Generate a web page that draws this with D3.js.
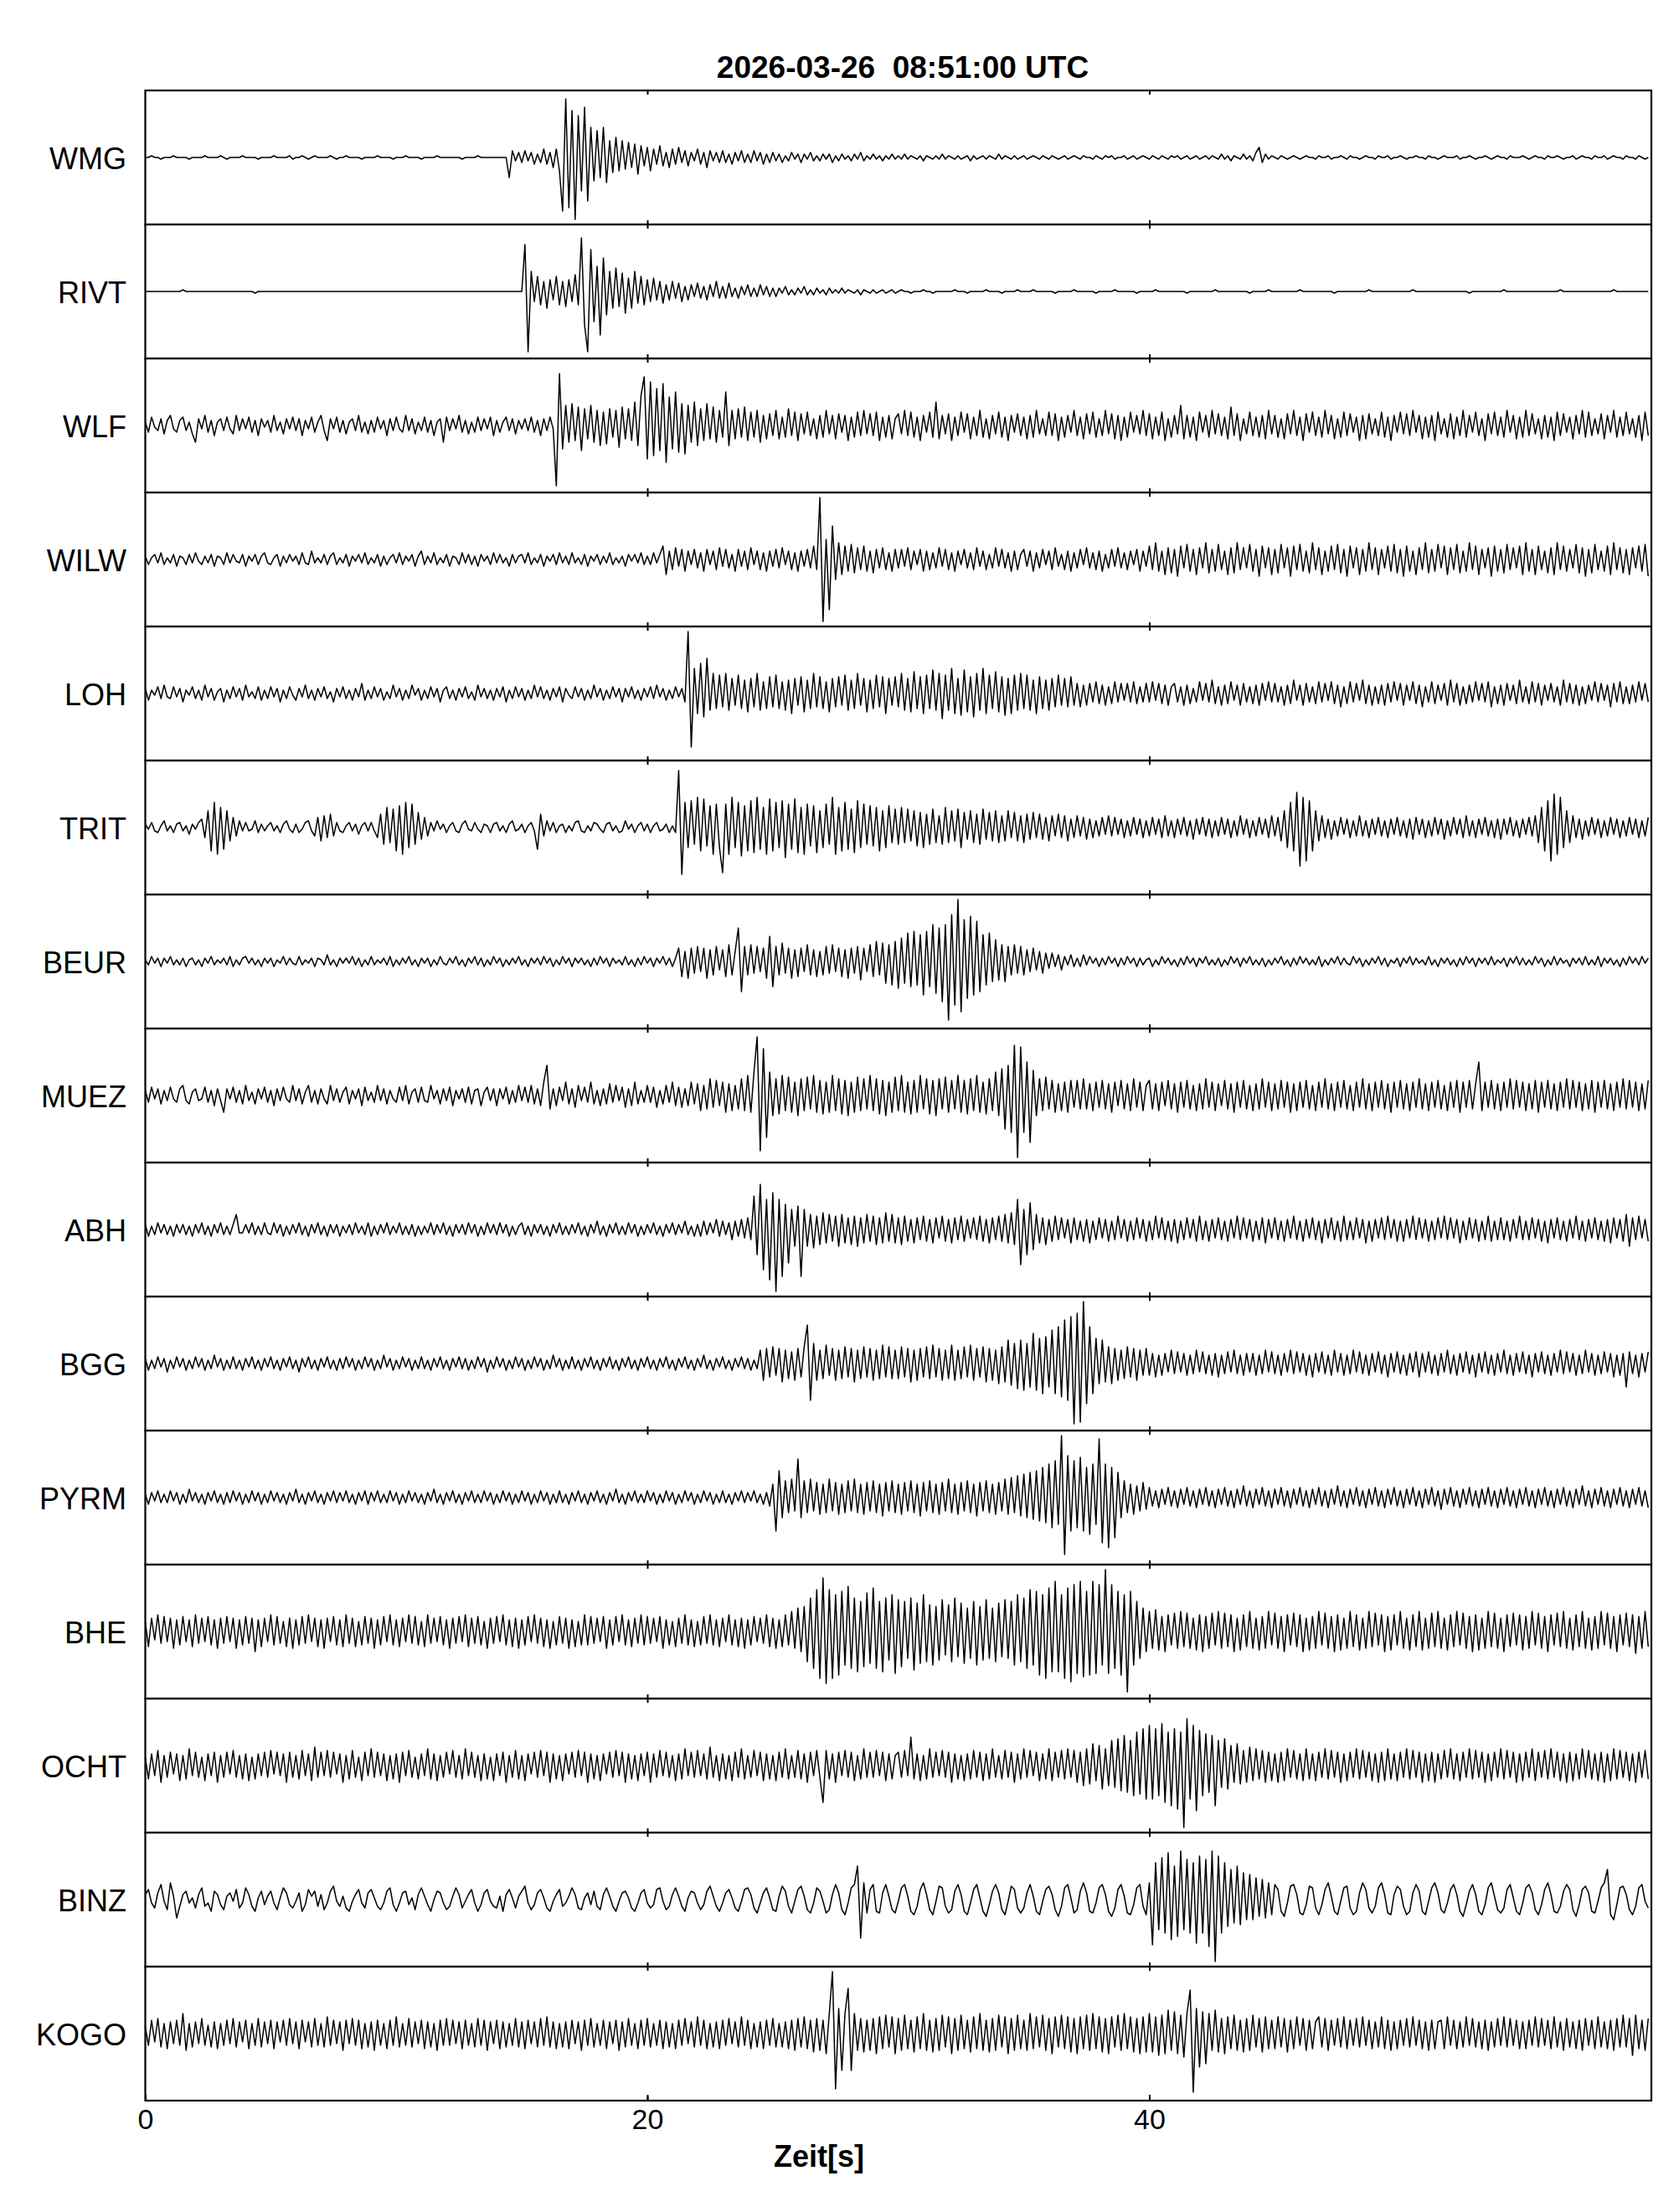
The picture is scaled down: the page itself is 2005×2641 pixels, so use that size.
<!DOCTYPE html>
<html>
<head>
<meta charset="utf-8">
<script src="https://cdn.jsdelivr.net/npm/d3@7"></script>
<style>
  body { margin: 0; background: #fff; }
  text { font-family: "Liberation Sans", Arial, sans-serif; fill: #000; }
</style>
</head>
<body>
<script>
// Page and plot area
var svgWidth = 2005;
var svgHeight = 2641;
var plotLeft = 173.5, plotRight = 1972, plotTop = 108, plotBottom = 2508;

// Chart labels
var titleText = "2026-03-26  08:51:00 UTC";
var xLabel = "Zeit[s]";
var timeTicks = [0, 20, 40];
var timeRange = [0, 60];
var sampleStep = 0.125;   // seconds between values (8 per second)
var ampRange = [-40, 40];

var stations = ["WMG", "RIVT", "WLF", "WILW", "LOH", "TRIT", "BEUR", "MUEZ",
                "ABH", "BGG", "PYRM", "BHE", "OCHT", "BINZ", "KOGO"];

// Traces (relative amplitude, one line = 5 s)
var wmg = [
  0,0,1,0,0,-1,0,0, 0,1,0,0,0,0,-1,0, 0,0,0,1,0,0,0,0, 1,0,-1,0,0,0,0,1, 0,0,0,0,-1,0,0,0,
  0,1,0,0,0,0,1,-1, 0,0,1,0,-1,0,1,0, 0,0,0,1,0,-1,0,0, 1,0,0,0,0,-1,0,0, 0,0,1,0,0,0,0,-1,
  0,0,0,1,0,0,0,0, -1,0,0,0,0,1,0,0, 0,0,0,0,0,-1,0,0, 0,0,1,0,0,0,0,0, 0,0,0,0,-12,4,-2,3,
  -3,4,-2,3,-4,2,-3,5, -4,3,-6,5,-8,-32,35,-30, 28,-37,25,-20,30,-26,18,-14, 16,-12,18,-15,10,-9,12,-8, 10,-7,9,-6,8,-10,7,-5,
  6,-8,5,-4,7,-5,3,-6, 5,-4,6,-3,4,-5,3,-2, 5,-4,3,-6,4,-2,3,-3, 4,-3,2,-4,3,-2,4,-3, 2,-3,4,-2,3,-4,2,-3,
  3,-2,2,-3,1,-2,3,-1, 2,-3,2,-1,3,-2,1,-2, 2,-1,2,-3,1,-2,2,-1, 1,-2,2,-1,3,-2,1,-1, 2,-1,1,-2,1,-1,2,-1,
  1,-1,2,-1,1,0,-1,1, -2,1,0,-1,1,-1,2,-1, 1,0,-1,1,-1,0,1,-2, 1,-1,0,1,-1,1,0,-1, 2,-1,1,0,-1,1,-1,0,
  1,-1,0,1,0,-1,1,0, -1,1,0,-1,0,1,-1,0, 1,0,-1,1,0,0,-1,1, 0,-1,1,0,1,-1,0,0, 1,-1,0,1,-1,0,1,0,
  -1,1,0,-1,1,0,-1,1, 0,1,-1,0,1,-1,0,1, -1,0,1,-1,1,0,-1,2, -1,1,-2,1,0,-1,2,-1, 1,-2,3,6,-3,2,-1,1,
  0,-1,1,0,-1,0,1,0, -1,0,1,0,0,-1,1,0, 0,1,-1,0,0,1,0,-1, 1,0,0,-1,0,1,0,0, -1,1,0,0,1,-1,0,0,
  1,0,-1,0,0,1,0,0, -1,1,0,0,-1,0,1,0, 0,0,1,-1,0,0,1,0, -1,0,0,1,0,-1,0,1, 0,0,-1,1,0,0,0,1,
  0,-1,0,1,0,0,-1,1, 0,0,1,0,-1,0,0,1, -1,0,1,0,0,-1,1,0, 0,1,-1,0,1,0,0,-1, 1,0,0,-1,1,0,-1,0
];
var rivt = [
  0,0,0,0,0,0,0,0, 0,0,0,0,1,0,0,0, 0,0,0,0,0,0,0,0, 0,0,0,0,0,0,0,0, 0,0,0,-1,0,0,0,0,
  0,0,0,0,0,0,0,0, 0,0,0,0,0,0,0,0, 0,0,0,0,0,0,0,0, 0,0,0,0,0,0,0,0, 0,0,0,0,0,0,0,0,
  0,0,0,0,0,0,0,0, 0,0,0,0,0,0,0,0, 0,0,0,0,0,0,0,0, 0,0,0,0,0,0,0,0, 0,0,0,0,0,0,0,0,
  0,28,-36,12,-6,9,-8,6, -10,7,-5,9,-8,6,-9,7, -6,10,-8,32,-20,-36,25,-18, 15,-26,20,-14,12,-10,14,-9, 11,-13,8,-10,12,-7,9,-8,
  7,-6,8,-5,6,-7,4,-5, 6,-4,5,-6,3,-5,4,-3, 5,-4,3,-5,4,-3,6,-4, 3,-4,5,-3,2,-4,3,-2, 4,-3,2,-3,4,-2,3,-3,
  2,-3,2,-1,3,-2,1,-2, 2,-1,3,-2,1,-2,2,-1, 1,-2,2,-1,1,-1,2,-1, 1,0,-1,1,-2,1,0,-1, 1,-1,0,1,-1,0,1,-1,
  0,1,0,0,-1,0,0,0, 1,0,0,-1,0,0,0,0, 0,0,1,0,0,0,-1,0, 0,0,0,0,1,0,0,0, 0,-1,0,0,0,0,1,0,
  0,0,0,1,0,0,0,0, 0,0,-1,0,0,0,0,0, 1,0,0,0,0,0,0,-1, 0,0,0,0,0,1,0,0, 0,0,0,0,-1,0,0,0,
  0,0,1,0,0,0,0,0, 0,0,0,0,-1,0,0,0, 0,0,0,0,0,1,0,0, 0,0,0,0,0,0,0,0, -1,0,0,0,0,0,1,0,
  0,0,0,0,0,0,0,0, 1,0,0,0,0,0,0,0, 0,0,0,-1,0,0,0,0, 0,0,0,0,0,0,1,0, 0,0,0,0,0,0,0,0,
  0,0,0,0,1,0,0,0, 0,0,0,0,0,0,0,0, 0,0,0,0,0,0,-1,0, 0,0,0,0,0,0,0,0, 0,1,0,0,0,0,0,0,
  0,0,0,0,0,0,0,0, 0,0,0,1,0,0,0,0, 0,0,0,0,0,0,0,0, 0,0,0,0,1,0,0,0, 0,0,0,0,0,0,0,0
];
var wlf = [
  2,-4,5,-1,-3,4,-5,3, 6,-2,-4,3,5,-3,2,-5, -10,4,-2,6,-4,3,-6,2, 4,-3,5,-2,-5,6,-3,4, -2,5,-4,3,-6,4,-1,3,
  -4,6,-3,2,-5,4,-2,5, -3,4,-6,3,-2,5,-4,2, 6,-3,-9,4,-2,5,-4,3, -5,2,4,-3,6,-4,2,-5, 3,-4,5,-2,3,-6,4,-3,
  5,-2,-4,6,-3,4,-5,2, -3,5,-4,3,-6,2,4,-10, 5,-3,4,-2,6,-4,3,-5, 2,-4,5,-3,4,-2,5,-6, 3,-4,2,5,-3,4,-5,3,
  -2,4,-3,5,-4,3,-6,4, -3,5,-2,-36,31,-14,12,-10, 13,-9,11,-15,10,-8,12,-10, 9,-12,8,-11,10,-7,9,-13, 11,-8,10,-9,14,-12,18,29,
  -20,26,-18,22,-15,25,-22,17, -14,20,-16,13,-17,12,-10,14, -12,10,-9,13,-8,11,-10,9, -7,20,-12,9,-8,10,-7,11, -9,8,-7,9,-10,6,-8,7,
  -6,9,-8,5,-7,10,-6,8, -9,7,-5,8,-6,4,-8,6, -7,9,-5,6,-8,7,-4,6, -9,5,-7,8,-6,9,-5,7, -6,8,-9,5,-7,6,-8,4,
  7,-5,9,-6,8,-7,5,-9, 6,-4,8,-7,14,-8,6,-5, 7,-9,5,-6,8,-4,7,-8, 5,-6,9,-7,4,-8,6,-5, 8,-7,5,-9,6,-4,7,-6,
  5,-8,6,-7,9,-5,4,-6, 8,-6,7,-9,5,-7,6,-4, 9,-6,5,-8,7,-5,8,-7, 4,-6,9,-5,7,-8,6,-9, 5,-7,8,-4,6,-5,9,-6,
  7,-8,5,-6,8,-9,4,-7, 6,-5,12,-8,6,-7,5,-9, 8,-4,6,-7,9,-5,7,-6, 5,-8,11,-6,7,-9,4,-5, 8,-6,5,-7,6,-8,9,-5,
  6,-7,4,-8,7,-5,9,-6, 5,-9,7,-4,8,-6,5,-7, 9,-5,6,-8,4,-7,8,-6, 7,-4,5,-9,6,-8,7,-5, 4,-6,8,-7,5,-9,6,-4,
  8,-5,7,-6,9,-4,6,-8, 5,-7,6,-9,8,-5,4,-7, 7,-8,5,-6,9,-7,6,-4, 8,-6,4,-9,7,-5,8,-6, 5,-7,9,-4,6,-8,5,-7,
  9,-6,7,-5,4,-8,6,-7, 5,-9,8,-6,7,-4,5,-8, 6,-5,9,-7,8,-6,4,-5, 7,-8,6,-4,9,-7,5,-6, 8,-5,4,-7,6,-9,8,-6
];
var wilw = [
  2,-3,1,3,-2,4,-3,1, -2,3,-4,2,1,-3,3,-2, 4,-1,-3,2,-2,3,-4,2, 1,-3,4,-2,3,-1,-2,3, -4,2,-1,3,-3,2,4,-2,
  -3,1,3,-4,2,-2,3,-1, 2,-3,4,-2,-3,5,-2,1, -2,3,-3,2,4,-3,1,-2, 3,-4,2,-1,3,-2,4,-3, 1,-2,3,-4,2,-3,1,3,
  -2,4,-3,2,-1,3,-4,2, 5,-3,2,-2,4,-3,1,-2, 3,-4,2,1,-3,4,-2,3, -3,2,-4,3,-1,2,-3,4, -2,3,-2,1,-4,3,-2,2,
  3,-2,4,-3,1,-2,3,-4, 2,-1,3,-3,4,-2,2,-3, 4,-2,1,-3,3,-4,2,-1, 3,-3,2,-2,4,-3,1,-2, 2,-4,3,-1,3,-2,4,-3,
  2,-3,4,-2,3,8,-9,5, -6,7,-4,6,-7,5,-3,6, -5,4,-7,6,-3,5,-6,7, -4,6,-5,3,-7,6,-4,5, -6,7,-3,5,-6,4,-7,5,
  -4,6,-5,7,-3,5,-6,4, -7,5,-4,6,-5,8,-6,37, -37,12,-30,20,-12,10,-9,8, -7,9,-8,7,-6,8,-7,5, -8,6,-5,7,-6,4,-7,6,
  -5,6,-4,7,-6,5,-3,6, -7,5,-6,4,-5,7,-4,6, -6,4,-7,5,-3,6,-5,4, -6,7,-4,5,-6,3,-5,7, -4,6,-5,4,-7,5,-6,3,
  6,-4,5,-7,4,-5,6,-3, 5,-6,7,-4,3,-6,5,-7, 4,-5,6,-3,7,-5,4,-6, 5,-7,3,-5,6,-4,7,-5, 4,-6,5,-3,6,-7,5,-4,
  8,-6,10,-7,5,-9,7,-8, 6,-10,8,-5,9,-7,6,-9, 7,-5,10,-8,6,-7,9,-6, 5,-9,7,-8,10,-6,7,-5, 9,-7,6,-10,8,-5,7,-9,
  6,-8,9,-5,7,-10,8,-6, 9,-7,5,-8,10,-6,7,-9, 5,-7,8,-6,9,-8,6,-10, 8,-5,7,-9,6,-7,10,-6, 7,-9,6,-5,8,-7,9,-8,
  6,-10,8,-7,5,-9,7,-6, 10,-8,6,-7,9,-5,8,-9, 7,-6,9,-8,5,-7,10,-6, 8,-9,6,-5,7,-10,8,-7, 6,-8,9,-6,7,-5,8,-9,
  10,-7,6,-9,8,-6,5,-8, 7,-9,10,-6,8,-7,6,-5, 9,-8,7,-10,6,-8,9,-6, 5,-7,8,-9,10,-6,7,-8, 6,-9,7,-5,8,-7,9,-10
];
var loh = [
  3,-4,2,-1,4,-3,5,-2, -3,4,-2,3,-5,2,-1,4, -3,2,-4,5,-2,3,-4,1, 3,-5,2,-3,4,-2,3,-4, 5,-2,1,-3,4,-4,2,-3,
  4,-2,3,-5,2,-3,4,-1, -4,3,-2,5,-3,2,-4,3, -2,4,-3,1,-5,3,-2,4, -3,2,-4,3,-2,6,-4,2, -3,4,-2,3,-4,1,-3,5,
  -2,3,-4,2,-3,5,-1,3, -4,2,-3,4,-2,3,-5,2, 4,-3,2,-4,3,-2,4,-3, 1,-4,5,-2,3,-3,2,-4, 3,-2,4,-5,2,-3,4,-2,
  3,-4,2,-3,5,-2,4,-3, 2,-4,3,-2,4,-5,3,-1, -3,4,-2,3,-4,2,-3,5, -2,3,-4,2,-3,4,-2,3, -5,3,-2,4,-3,2,-4,3,
  -2,4,-3,5,-2,3,-4,2, -3,4,-2,3,-5,37,-32,15, -12,18,-14,21,-10,12,-9,11, -8,12,-10,9,-7,11,-9,8, -11,9,-8,12,-10,7,-9,10,
  -8,11,-9,7,-10,8,-12,9, -7,10,-11,8,-9,12,-8,10, -9,7,-11,9,-8,10,-7,11, -10,8,-9,12,-7,9,-11,8, -9,11,-8,10,-12,9,-7,10,
  -8,12,-10,9,-11,13,-9,10, -12,11,-9,14,-10,12,-15,11, -10,15,-12,9,-13,14,-11,10, -14,12,-10,15,-12,11,-9,13, -11,10,-13,9,-12,11,-10,12,
  -9,11,-10,8,-12,10,-9,8, -10,9,-8,11,-7,9,-8,10, -7,6,-8,5,-7,6,-5,7, -6,5,-7,4,-6,7,-5,6, -4,6,-5,7,-6,4,-5,6,
  -5,7,-4,6,-6,5,-7,4, 6,-5,4,-7,5,-6,3,-5, 7,-4,6,-5,8,-6,4,-7, 5,-6,7,-4,5,-7,6,-5, 4,-6,5,-7,6,-4,7,-5,
  6,-5,4,-7,5,-6,8,-4, 5,-7,6,-5,4,-6,7,-5, 6,-4,7,-6,5,-8,4,-6, 7,-5,6,-4,8,-6,5,-7, 4,-6,5,-7,6,-5,7,-4,
  6,-7,5,-4,7,-6,5,-8, 4,-5,7,-6,5,-4,6,-7, 8,-5,6,-7,4,-6,5,-5, 7,-4,6,-5,7,-8,4,-6, 5,-7,6,-4,5,-6,8,-5,
  4,-6,7,-5,6,-7,5,-4, 6,-5,4,-7,8,-5,6,-6, 5,-7,4,-6,5,-4,7,-5, 6,-4,5,-8,6,-5,7,-6, 4,-6,5,-5,7,-4,6,-5
];
var trit = [
  2,-1,3,-2,-3,1,4,-2, 1,-3,2,3,-2,1,-4,2, -1,3,5,-6,10,-14,15,-16, 12,-13,10,-8,6,-5,4,-2, 3,-2,-1,4,-3,2,-2,1,
  3,-2,1,-3,2,4,-1,-3, 2,-3,-1,3,4,-2,-5,6, -8,7,-6,8,-5,3,-2,-3, 1,3,-2,2,-4,1,3,-2, 3,-2,-6,8,-10,12,-9,11,
  -14,13,-16,15,-12,14,-10,9, -7,6,-5,3,-2,4,-1,2, -3,1,3,-2,-3,2,4,-1, -2,3,-1,-3,2,1,-3,2, 3,-2,1,-3,2,4,-2,-1,
  2,-3,1,3,-2,-13,8,-5, 4,-2,3,-3,1,2,-3,1, -2,3,4,-2,-3,1,-2,3, 2,-1,-3,2,3,-2,1,-3, -2,4,-1,2,-3,1,3,-2,
  2,-3,1,3,-2,-1,2,-3, 1,-3,34,-28,15,-12,16,-10, 18,-14,17,-11,13,-16,14,-12, -27,14,-16,18,-12,15,-17,13, -14,16,-15,18,-13,12,-16,17,
  -14,15,-12,16,-18,14,-13,17, -15,12,-16,14,-11,13,-15,10, -12,14,-10,18,-16,12,-14,15, -13,11,-15,16,-12,14,-10,13, -11,12,-14,10,-12,13,-9,11,
  -10,12,-9,11,-8,10,-11,9, -12,8,-10,11,-9,7,-10,12, -9,10,-8,11,-12,9,-7,10, -9,8,-10,11,-7,9,-8,10, -9,7,-8,10,-6,9,-8,7,
  -9,8,-7,9,-6,8,-7,6, -8,7,-5,8,-6,7,-8,5, -6,7,-5,6,-7,5,-6,4, -5,6,-4,7,-5,6,-4,5, -6,4,-5,6,-4,5,-6,4,
  -5,6,-4,5,-6,7,-5,4, -6,5,-4,6,-5,4,-7,5, -4,6,-5,5,-6,4,-5,6, -4,5,-6,4,-5,7,-4,5, -6,4,-5,6,-4,5,-6,7,
  -5,6,-8,10,-12,15,-14,21, -23,18,-20,16,-14,10,-8,7, -6,5,-7,4,-5,6,-4,5, -6,4,-5,7,-5,4,-6,5, -4,6,-5,4,-6,5,-4,6,
  -5,4,-6,5,-7,6,-4,5, -6,4,-5,6,-4,5,-7,4, -5,6,-4,5,-6,7,-5,4, -6,5,-4,6,-5,4,-6,5, -7,5,-4,6,-5,4,-6,5,
  -4,6,-5,7,-9,12,-14,16, -20,20,-16,18,-12,10,-9,7, -6,5,-7,4,-5,6,-4,5, -6,4,-5,6,-4,5,-6,4, -5,6,-4,5,-6,4,-5,6
];
var beur = [
  1,-2,3,-1,2,-3,2,-1, 3,-2,1,-2,2,-3,1,2, -2,1,-3,2,-1,3,-2,1, -1,2,-2,3,-3,1,-2,2, 3,-1,2,-2,1,-3,2,-1,
  2,-3,1,-1,3,-2,2,-1, -2,3,-2,1,-1,2,-3,2, 1,-2,4,-2,1,-3,2,-1, 2,-1,3,-2,2,-3,1,-2, 3,-2,1,-1,2,-2,3,-3,
  1,-2,2,-1,3,-2,1,-3, 2,-1,2,-3,1,-2,3,-1, -2,2,-1,3,-2,1,-3,2, -1,3,-2,2,-3,1,-2,3, -1,2,-3,1,-2,2,-1,3,
  -2,1,-3,2,-1,2,-2,3, -1,2,-3,1,-2,3,-1,2, -3,2,-1,2,-2,1,-3,2, -2,3,-1,2,-3,2,-1,1, -2,3,-2,1,-3,2,-2,3,
  -1,2,-3,2,-1,3,-2,2, -3,2,8,-9,6,-10,8,-7, 9,-6,8,-10,7,-8,9,-5, 7,-9,10,-8,6,20,-18,9, -8,10,-7,9,-6,8,-10,15,
  -15,9,-8,11,-7,8,-10,7, -9,8,-6,10,-8,7,-9,6, -8,9,-7,10,-6,8,-9,7, -10,8,-7,9,-11,8,-6,10, -9,12,-8,11,-13,10,-14,12,
  -16,14,-13,17,-15,18,-14,16, -20,18,-15,22,-19,20,-24,22, -35,28,-26,37,-30,25,-22,27, -20,24,-18,16,-14,17,-12,13, -11,10,-12,9,-8,10,-7,9,
  -8,7,-6,8,-5,6,-7,5, -4,5,-3,4,-5,3,-2,4, -3,2,-3,4,-2,3,-1,2, -3,2,-2,3,-1,2,-3,2, -2,3,-1,2,-3,2,-2,1,
  2,-3,1,-2,3,-1,2,-2, 1,-3,2,-2,3,-1,2,-3, 2,-1,3,-2,1,-2,2,-3, 1,-2,3,-1,2,-3,2,-1, 3,-2,1,-2,2,-3,1,-2,
  2,-1,3,-2,1,-3,2,-2, 3,-1,2,-2,1,-2,3,-3, 1,-2,2,-1,3,-2,2,-1, -2,3,-1,2,-3,1,-2,2, -1,3,-2,2,-3,1,-1,2,
  -3,2,-1,3,-2,2,-1,1, -2,3,-2,1,-3,2,-1,2, -2,1,-3,2,-2,3,-1,2, -3,2,-1,2,-2,3,-2,1, -1,2,-3,2,-1,3,-2,2,
  -2,1,-2,3,-1,2,-3,1, -2,3,-2,2,-1,1,-3,2, -1,2,-2,3,-2,1,-2,3, -3,2,-1,2,-2,1,-3,2, -2,3,-1,2,-2,3,-1,2
];
var muez = [
  3,-4,5,-2,4,-5,3,-3, 5,-2,-4,4,6,-3,-5,2, 4,-3,-2,5,-4,3,-6,4, -3,-10,4,-2,5,-4,3,-5, 6,-3,2,-5,4,-2,5,-4,
  3,-6,4,-3,5,-2,-4,6, -3,4,-5,2,6,-4,3,-5, 4,-2,-5,6,-3,4,-4,2, 5,-5,3,-2,4,-6,5,-3, 2,-4,6,-3,4,-5,3,-2,
  -4,5,-3,6,-5,2,4,-4, 5,-3,-4,6,-2,3,-5,4, -3,5,-6,3,-2,4,-4,5, -5,3,4,-6,2,5,-3,4, -6,4,-2,5,-5,3,-4,6,
  -3,5,-4,6,-5,4,-6,8, 18,-8,4,-6,5,-3,8,-5, 4,-7,6,-3,5,-4,8,-5, 3,-6,4,-5,7,-4,6,-3, 5,-7,4,-6,8,-5,3,-4,
  6,-4,5,-7,3,-5,6,-4, 8,-6,5,-7,4,-6,8,-5, 7,-9,6,-8,10,-7,9,-6, 8,-10,7,-9,6,-8,10,-9, 12,-10,14,35,-33,28,-25,14,
  -12,10,-11,12,-9,11,-10,8, -12,10,-9,11,-8,12,-10,9, -11,8,-10,12,-9,10,-11,9, -12,8,-10,11,-9,10,-8,12, -9,10,-11,9,-12,8,-10,11,
  -9,12,-10,8,-11,9,-10,12, -8,10,-11,9,-12,10,-8,11, -10,9,-8,12,-10,9,-11,10, -9,12,-10,8,-11,10,-9,14, -12,16,-20,18,-22,30,-37,29,
  -22,20,-28,15,-12,10,-9,11, -8,9,-10,7,-9,8,-10,9, -7,9,-8,10,-8,7,-9,8, -7,9,-8,7,-10,8,-6,9, -8,7,-9,10,-7,8,-9,6,
  9,-8,7,-9,8,-6,9,-8, 7,-10,8,-7,9,-8,6,-9, 7,-8,10,-7,8,-9,7,-6, 9,-8,7,-10,8,-7,9,-8, 6,-9,7,-8,10,-7,8,-9,
  7,-8,9,-7,8,-10,7,-9, 8,-7,9,-8,6,-9,8,-7, 10,-8,7,-9,8,-7,9,-8, 6,-9,8,-7,10,-8,7,-9, 8,-7,9,-8,7,-10,8,-7,
  9,-8,7,-9,8,-7,10,-8, 7,-9,8,-7,9,-8,6,-9, 8,-7,9,-10,8,-7,9,-8, 7,20,-9,8,-7,9,-8,7, -9,8,-7,10,-8,9,-7,8,
  -9,7,-8,9,-10,8,-7,9, -8,7,-9,8,-7,10,-8,9, -7,8,-9,7,-8,9,-10,8, -7,9,-8,7,-9,8,-7,10, -8,9,-7,8,-9,7,-8,9
];
var abh = [
  3,-4,2,-3,4,-2,3,-3, 2,-4,3,-2,3,-3,2,-4, 3,-2,4,-3,2,-4,3,-2, 4,-3,2,-3,3,9,-2,-2, 3,-2,4,-3,2,-3,4,-2,
  -3,4,-2,3,-4,2,-3,3, -2,4,-3,2,-4,3,-2,4, -3,2,-4,3,-2,3,-4,2, -2,3,-3,4,-2,2,-3,4, -4,2,-3,3,-2,4,-3,2,
  -2,4,-3,2,-3,3,-4,2, -3,2,-2,4,-3,3,-2,4, -3,2,-4,3,-2,3,-3,4, -2,3,-4,2,-3,4,-2,3, -3,4,-2,3,-4,2,-3,2,
  4,-3,2,-4,3,-2,3,-3, 2,-4,3,-2,4,-3,2,-3, 3,-2,4,-3,2,-4,3,-2, 5,-3,2,-4,3,-2,4,-3, 2,-3,4,-2,3,-4,2,-3,
  3,-2,4,-3,2,-4,3,-2, 4,-3,3,-2,5,-3,2,-4, 3,-4,5,-3,4,-2,6,-4, 5,-3,4,-6,5,-4,6,-5, 7,-6,20,-15,27,-24,18,-30,
  22,-37,18,-28,15,-20,12,-10, 14,-28,12,-10,9,-11,8,-9, 10,-8,9,-7,8,-10,9,-8, 7,-9,8,-10,7,-8,9,-7, 8,-9,7,-8,10,-7,9,-8,
  7,-9,8,-7,6,-8,7,-6, 8,-7,6,-8,7,-5,8,-7, 6,-8,7,-6,8,-7,6,-5, 7,-6,8,-7,6,-8,7,-6, 8,-7,9,-8,10,-9,18,-21,
  12,-15,16,-12,9,-8,7,-9, 6,-7,8,-6,7,-5,6,-8, 7,-6,5,-7,6,-8,5,-6, 7,-5,6,-7,5,-6,8,-5, 6,-7,5,-6,7,-5,6,-7,
  5,-6,8,-5,7,-6,5,-7, 6,-8,5,-6,7,-5,6,-7, 8,-6,5,-7,6,-5,7,-6, 5,-7,6,-5,8,-6,7,-5, 6,-7,5,-6,7,-8,6,-5,
  7,-6,5,-7,6,-5,8,-6, 5,-7,6,-5,7,-6,5,-8, 6,-5,7,-6,5,-7,8,-6, 5,-6,7,-5,6,-8,5,-7, 6,-5,7,-6,8,-5,6,-7,
  5,-7,6,-5,8,-6,7,-5, 6,-7,5,-6,7,-5,8,-6, 7,-5,6,-8,5,-6,7,-5, 6,-7,5,-6,8,-7,5,-6, 7,-6,5,-7,6,-5,8,-6,
  5,-6,7,-5,6,-7,5,-8, 6,-5,7,-6,5,-7,6,-5, 8,-6,5,-7,6,-5,7,-6, 5,-7,6,-8,7,-5,6,-7, 9,-10,7,-6,8,-5,6,-7
];
var bgg = [
  3,-4,2,-3,4,-2,3,-5, 2,-3,4,-2,3,-4,2,-3, 4,-2,3,-4,2,-3,5,-2, 3,-4,2,-3,4,-3,2,-4, 3,-2,4,-3,2,-4,3,-2,
  4,-3,2,-4,3,-2,4,-3, 2,-5,3,-2,4,-3,2,-4, 3,-2,4,-3,2,-4,3,-3, 4,-2,3,-4,2,-3,4,-2, 3,-4,2,-3,5,-2,3,-4,
  2,-3,4,-2,3,-4,2,-3, 4,-3,2,-4,3,-2,4,-3, 2,-4,3,-2,4,-3,3,-4, 2,-3,4,-2,3,-5,2,-3, 4,-2,3,-4,2,-3,4,-2,
  3,-4,2,-3,4,-2,3,-4, 2,-3,5,-2,3,-4,2,-3, 4,-3,2,-4,3,-2,4,-3, 2,-4,3,-2,4,-3,2,-4, 3,-2,4,-3,2,-4,3,-2,
  4,-3,2,-4,3,-2,4,-3, 2,-4,3,-2,4,-3,2,-4, 3,-2,5,-3,2,-4,3,-2, 4,-3,2,-4,3,-2,4,-3, 3,-4,2,-3,8,-10,9,-8,
  10,-7,9,-11,8,-9,7,-10, 9,-8,10,23,-22,12,-10,8, -9,11,-7,9,-10,8,-9,10, -8,9,-11,8,-9,10,-8,9, -10,8,-9,11,-8,10,-9,8,
  -9,10,-8,9,-11,8,-10,9, -8,10,-9,11,-8,9,-10,8, -9,11,-10,8,-9,10,-8,11, -10,9,-8,10,-11,9,-10,8, -12,10,-11,14,-13,12,-15,14,
  -16,12,-14,18,-16,15,-18,16, -14,20,-18,22,-20,26,-22,28, -36,30,-35,37,-24,22,-18,15, -12,14,-11,10,-12,9,-10,8, -9,10,-8,9,-10,8,-7,9,
  -7,6,-8,5,-7,6,-5,8, -6,7,-5,6,-7,5,-6,8, -5,7,-6,5,-7,6,-8,5, -6,7,-5,8,-6,5,-7,6, -5,6,-7,5,-6,8,-5,7,
  -6,5,-7,6,-5,8,-6,7, -5,6,-7,5,-8,6,-5,7, -6,5,-7,8,-5,6,-7,5, -6,8,-5,7,-6,5,-7,6, -5,7,-6,5,-8,6,-5,7,
  -6,5,-7,6,-5,7,-8,6, -5,7,-6,5,-7,6,-5,8, -6,5,-7,6,-5,7,-6,5, -8,6,-5,7,-6,5,-7,6, -5,8,-6,5,-7,6,-5,7,
  -6,5,-8,6,-5,7,-6,5, -7,6,-5,8,-6,7,-5,6, -7,5,-6,8,-5,6,-7,5, -6,7,-5,6,-8,5,-7,6, -14,7,-6,5,-8,6,-5,7
];
var pyrm = [
  2,-4,3,-2,4,-3,2,-3, 4,-2,3,-4,2,-3,5,-2, 3,-3,2,-4,3,-2,4,-3, 2,-4,3,-3,4,-2,3,-4, 2,-3,4,-2,3,-4,2,-3,
  4,-2,3,-3,2,-4,3,-2, 5,-3,2,-4,3,-2,4,-3, 2,-4,3,-2,4,-3,3,-2, 4,-3,2,-4,3,-2,4,-4, 3,-2,4,-3,2,-3,4,-2,
  3,-4,2,-3,4,-2,3,-3, 2,-4,3,-2,5,-3,2,-4, 3,-2,4,-3,2,-4,3,-2, 4,-3,2,-3,4,-2,3,-4, 2,-3,4,-2,3,-4,2,-3,
  4,-2,3,-4,2,-3,4,-2, 3,-4,2,-3,4,-3,2,-4, 3,-2,4,-3,2,-4,3,-2, 4,-3,2,-4,3,-2,5,-3, 2,-4,3,-2,4,-3,2,-3,
  4,-2,3,-4,2,-3,4,-2, 3,-4,2,-3,4,-2,3,-4, 2,-3,4,-2,3,-4,2,-3, 4,-3,2,-4,3,-2,4,-3, 3,-2,4,-3,2,-4,3,-5,
  8,-20,16,-12,10,-9,11,-8, 23,-12,10,-9,11,-8,9,-10, 8,-9,11,-8,9,-10,8,-9, 10,-8,11,-9,8,-10,9,-8, 10,-9,8,-11,9,-8,10,-9,
  8,-10,9,-8,10,-9,8,-11, 9,-8,10,-9,8,-10,9,-8, 11,-9,8,-10,9,-8,10,-9, 8,-11,9,-8,10,-9,8,-10, 9,-8,11,-10,12,-9,13,-11,
  14,-12,15,-13,16,-14,18,-15, 20,-18,22,-16,37,-34,25,-20, 22,-18,24,-20,18,-22,20,-16, 35,-27,20,-30,18,-24,15,-12, 10,-9,8,-10,7,-8,9,-7,
  6,-5,4,-6,5,-4,6,-5, 4,-6,5,-4,6,-5,4,-6, 5,-4,6,-5,4,-6,5,-4, 6,-5,4,-6,5,-4,7,-5, 4,-6,5,-4,6,-5,4,-6,
  5,-4,6,-5,4,-6,5,-4, 6,-5,4,-6,5,-4,6,-5, 4,-6,5,-4,7,-5,4,-6, 5,-4,6,-5,4,-6,5,-4, 6,-5,4,-6,5,-4,6,-5,
  4,-6,5,-4,6,-5,4,-6, 5,-4,6,-5,4,-7,5,-4, 6,-5,4,-6,5,-4,6,-5, 4,-6,5,-4,6,-5,4,-6, 5,-4,6,-5,4,-6,5,-4,
  6,-5,4,-6,5,-4,6,-5, 4,-6,5,-4,6,-5,4,-6, 5,-4,7,-5,4,-6,5,-4, 6,-5,4,-6,5,-4,6,-5, 4,-6,5,-4,6,-5,4,-6
];
var bhe = [
  6,-9,8,-5,10,-7,9,-6, 8,-10,7,-8,9,-6,7,-9, 10,-7,8,-6,9,-8,7,-10, 8,-7,9,-6,8,-10,7,-8, 9,-7,8,-12,7,-9,8,-6,
  10,-8,9,-7,6,-9,8,-10, 7,-8,9,-7,10,-6,8,-9, 7,-10,8,-6,9,-8,7,-9, 10,-7,8,-9,6,-8,9,-7, 8,-10,7,-8,9,-6,10,-8,
  7,-9,8,-6,10,-7,9,-8, 6,-9,10,-7,8,-6,9,-8, 7,-10,8,-7,9,-6,10,-9, 8,-7,9,-8,6,-10,8,-7, 9,-6,10,-8,7,-9,8,-10,
  7,-8,9,-6,10,-7,8,-9, 7,-10,6,-8,9,-7,8,-10, 7,-9,6,-8,10,-8,9,-7, 8,-6,9,-10,7,-8,9,-6, 10,-8,7,-9,8,-7,10,-8,
  9,-7,8,-6,9,-10,7,-8, 6,-9,8,-7,10,-8,7,-9, 6,-8,9,-7,10,-8,7,-9, 8,-6,10,-8,7,-9,8,-10, 7,-8,9,-6,8,-7,10,-9,
  8,-10,7,-9,10,-8,12,-10, 14,-12,15,-18,20,-22,25,-28, 32,-31,25,-28,22,-26,24,-20, 27,-22,20,-24,18,-21,23,-19, 26,-22,18,-24,20,-17,22,-25,
  19,-21,18,-16,20,-23,17,-19, 22,-18,16,-20,15,-17,19,-14, 16,-18,20,-15,17,-19,14,-16, 18,-20,15,-17,19,-16,14,-18, 17,-15,19,-16,18,-20,22,-18,
  20,-22,25,-20,24,-26,22,-28, 26,-24,30,-24,22,-28,26,-30, 28,-25,30,-27,24,-26,30,-25, 28,-20,37,-25,28,-22,24,-26, 22,-36,24,-20,18,-16,14,-12,
  12,-10,13,-11,9,-12,10,-8, 11,-10,12,-9,11,-10,8,-11, 10,-12,9,-10,11,-8,12,-10, 11,-9,10,-12,8,-11,10,-9, 12,-10,8,-11,9,-10,12,-8,
  11,-10,9,-12,10,-8,11,-9, 10,-12,8,-11,9,-10,12,-8, 11,-10,9,-12,10,-11,8,-10, 12,-9,10,-11,8,-10,12,-9, 11,-8,10,-12,9,-11,10,-8,
  12,-10,8,-11,10,-9,12,-11, 8,-10,11,-9,12,-10,8,-11, 10,-9,12,-8,11,-10,9,-12, 10,-11,8,-10,12,-9,11,-10, 8,-12,10,-9,11,-8,10,-11,
  9,-10,12,-8,11,-10,9,-12, 10,-8,11,-9,12,-10,8,-11, 10,-9,12,-10,8,-11,9,-10, 12,-8,11,-10,9,-12,10,-8, 11,-9,10,-13,9,-10,12,-9
];
var ocht = [
  5,-8,7,-6,9,-10,6,-7, 8,-5,7,-9,6,-8,10,-6, 8,-7,5,-9,7,-6,8,-10, 6,-7,8,-5,9,-7,6,-8, 7,-9,5,-8,7,-6,8,-7,
  9,-5,8,-6,7,-10,8,-7, 6,-8,9,-6,7,-9,11,-7, 8,-6,9,-7,8,-5,7,-10, 6,-8,9,-7,5,-9,8,-6, 10,-7,8,-6,7,-9,6,-8,
  7,-10,8,-6,9,-7,5,-8, 7,-6,10,-8,7,-9,6,-7, 8,-5,9,-7,6,-8,10,-6, 8,-7,6,-9,7,-8,5,-9, 7,-6,8,-10,6,-7,9,-8,
  6,-9,7,-5,8,-7,9,-6, 8,-10,7,-8,6,-9,7,-5, 8,-7,9,-6,8,-10,7,-8, 6,-9,7,-5,8,-7,9,-6, 8,-10,7,-8,6,-9,7,-6,
  8,-10,7,-7,9,-6,8,-7, 6,-9,7,-8,10,-6,8,-7, 9,-6,7,-8,11,-7,6,-9, 7,-8,6,-9,8,-7,10,-8, 6,-7,9,-6,8,-9,7,-8,
  6,-9,8,-7,10,-8,6,-7, 9,-8,7,-10,8,-6,9,-7, -22,9,-8,7,-10,8,-6,9, -7,8,-9,6,-8,10,-7,8, -7,9,-6,8,-9,7,-8,6,
  8,-7,9,-6,17,-8,7,-9, 6,-8,10,-7,8,-6,9,-7, 8,-10,7,-8,6,-9,7,-8, 9,-7,8,-9,7,-8,10,-7, 6,-8,9,-7,8,-10,7,-8,
  10,-7,9,-6,8,-9,7,-8, 10,-9,8,-7,9,-8,10,-7, 9,-10,8,-12,10,-11,13,-9, 12,-14,10,-12,15,-13,16,-15, 18,-16,15,-18,20,-17,22,-20,
  24,-20,22,-18,25,-22,20,-24, 22,-26,20,-37,28,-20,24,-27, 21,-18,19,-16,18,-24,15,-13, 16,-14,12,-10,13,-11,9,-10, 11,-9,10,-8,9,-10,8,-9,
  7,-10,8,-9,10,-7,9,-8, 7,-9,10,-8,7,-9,8,-7, 10,-8,9,-7,8,-10,7,-9, 8,-7,10,-8,9,-7,8,-9, 7,-10,8,-9,10,-8,7,-9,
  8,-7,10,-8,9,-7,8,-10, 7,-9,8,-10,7,-8,9,-7, 10,-8,7,-9,8,-7,10,-8, 9,-7,8,-10,7,-9,8,-7, 10,-8,9,-7,8,-10,7,-9,
  8,-7,10,-9,8,-7,9,-8, 10,-7,8,-9,7,-10,8,-9, 7,-8,10,-7,9,-8,7,-9, 8,-10,7,-9,10,-8,9,-7, 8,-9,7,-10,8,-7,9,-8
];
var binz = [
  3,6,-2,-5,4,9,-1,-6, 10,2,-11,-4,3,5,-2,1, -5,3,7,-4,-2,-7,5,3, -3,-6,2,4,-1,6,-5,-2, 7,3,-4,-7,1,5,-3,2,
  5,-2,-6,1,7,4,-3,-5, -1,4,-7,-3,6,2,5,-4, 3,-6,-2,5,8,-1,-4,2, -5,-7,-1,3,6,-2,-5,4, 6,1,-4,-6,-2,5,7,-3,
  -7,-2,4,5,-3,1,-6,3, 7,2,-3,-7,0,5,4,-2, -6,-4,2,7,3,-5,-1,3, 6,-2,-7,-3,4,6,-1,-4, -5,2,-7,3,6,1,-5,2,
  5,8,-2,-6,-3,4,6,1, -5,-7,-1,3,6,-4,-2,2, 7,3,-5,-6,1,4,-3,5, -4,-6,3,7,2,-4,-7,-1, 4,5,1,-5,-7,-2,4,6,
  -2,-5,-3,6,7,-1,-6,-4, 3,7,2,-4,-7,1,5,4, -2,-6,-3,5,8,2,-4,-7, -2,4,6,1,-5,-7,-1,6, 7,3,-5,-8,-2,4,7,1,
  -6,-7,2,8,5,-4,-8,-1, 6,8,2,-6,-8,-2,7,5, -1,-8,-6,3,9,4,-6,-9, -2,7,9,20,-23,10,-8,6, 9,-7,-8,4,9,2,-6,-8,
  -1,7,9,2,-7,-9,-4,6, 10,3,-6,-9,-1,8,7,-4, -8,-6,5,9,3,-7,-9,-2, 6,9,1,-7,-10,-3,5,9, 4,-6,-9,-1,8,6,-5,-8,
  -5,4,9,2,-7,-9,-1,6, 8,3,-6,-10,-4,7,9,1, -8,-6,5,10,4,-7,-8,-2, 7,9,3,-7,-10,-5,6,9, 2,-8,-9,-3,7,9,-4,-9,
  10,-27,22,-18,25,-20,28,-24, 20,-22,29,-18,24,-20,22,-26, 26,-20,24,-28,29,-37,26,-20, 22,-16,18,-14,20,-15,16,-12, 15,-12,13,-10,12,-11,10,-9,
  9,6,-7,-10,-2,8,9,3, -8,-9,-3,8,7,-5,-9,-3, 6,10,2,-7,-9,-1,7,8, -5,-9,-7,4,10,6,-5,-8, -4,7,10,3,-8,-9,3,8,
  6,-4,-9,-7,4,9,5,-7, -9,-1,7,10,4,-6,-8,-2, 6,9,3,-7,-10,-3,5,9, 3,-7,-9,-3,7,10,2,-6, -8,-5,6,9,1,-7,-9,-2,
  7,9,4,-6,-9,-3,6,10, 3,-7,-8,-4,5,9,6,-6, -10,-3,6,8,4,-7,-8,-1, 7,10,18,-9,-12,-3,7,8, 3,-6,-9,-4,7,9,-1,-5
];
var kogo = [
  4,-7,8,-5,9,-8,6,-9, 7,-6,8,-7,12,-10,6,-8, 7,-6,9,-7,5,-8,7,-9, 6,-7,8,-6,9,-8,7,-5, 8,-9,6,-7,9,-8,7,-6,
  8,-9,7,-5,8,-7,9,-6, 7,-9,8,-5,7,-8,9,-7, 6,-8,10,-7,8,-6,7,-10, 8,-6,9,-7,8,-9,6,-8, 7,-10,8,-7,6,-9,8,-7,
  10,-8,6,-7,9,-8,7,-6, 8,-9,7,-8,6,-10,8,-7, 9,-7,8,-6,7,-9,8,-7, 6,-8,9,-7,8,-10,7,-6, 8,-9,7,-8,6,-7,9,-8,
  7,-9,8,-6,7,-8,9,-7, 10,-8,7,-9,6,-8,7,-9, 8,-6,7,-10,8,-7,9,-8, 6,-7,8,-9,7,-6,8,-10, 7,-8,9,-7,6,-9,8,-7,
  9,-8,6,-7,8,-9,7,-8, 6,-9,8,-7,9,-6,7,-8, 10,-7,8,-9,6,-8,7,-9, 8,-7,9,-6,7,-8,10,-7, 8,-9,6,-8,7,-9,8,-7,
  9,-8,6,-8,7,-9,8,-10, 9,-8,10,-9,8,-11,9,-10, 8,-12,12,37,-33,15,-22,12, 27,-22,12,-10,9,-11,8,-10, 9,-12,10,-9,11,-8,10,-12,
  9,-10,11,-9,8,-11,10,-9, 12,-10,8,-11,9,-10,11,-8, 10,-12,9,-10,11,-9,8,-11, 10,-9,12,-10,8,-11,9,-10, 11,-8,10,-12,9,-10,11,-9,
  8,-10,12,-9,10,-8,11,-10, 9,-12,10,-8,11,-9,10,-11, 9,-12,10,-9,11,-10,12,-9, 10,-11,9,-12,10,-8,11,-10, 12,-9,10,-11,9,-12,10,-11,
  12,-11,10,-13,11,-12,14,-10, 13,-12,11,-14,12,26,-35,15, -20,13,-18,12,-10,14,-11,9, -12,10,-9,11,-10,8,-11,9, -10,11,-8,9,-11,10,-9,8,
  -9,10,-8,9,-11,8,-9,10, -7,9,-10,8,-9,7,10,-8, 9,-10,8,-7,9,-8,10,-9, 8,-7,9,-8,10,-7,8,-9, 7,-8,10,-9,8,-10,7,-9,
  8,-7,9,-8,10,-7,8,-9, 7,-10,8,-9,7,8,-9,10, -7,8,-9,7,-8,10,-7,9, -8,7,-9,8,-10,7,-8,9, -7,10,-8,9,-7,8,-9,7,
  -9,8,-7,10,-8,9,-7,8, -9,10,-8,7,-10,9,-8,7, -9,8,-10,9,-7,8,-9,10, -8,7,-9,8,-10,9,-8,11, -8,9,-13,11,-9,8,-10,9
];

var traces = [wmg, rivt, wlf, wilw, loh, trit, beur, muez, abh, bgg, pyrm, bhe, ocht, binz, kogo];

// Select body, append SVG area
var svg = d3.select("body")
  .append("svg")
  .attr("width", svgWidth)
  .attr("height", svgHeight);

svg.append("rect")
  .attr("width", svgWidth)
  .attr("height", svgHeight)
  .attr("fill", "#fff");

// Scales
var xScale = d3.scaleLinear()
  .domain(timeRange)
  .range([plotLeft, plotRight]);

var rowScale = d3.scaleBand()
  .domain(stations)
  .range([plotTop, plotBottom])
  .padding(0);

var rowHeight = rowScale.bandwidth();

var yScale = d3.scaleLinear()
  .domain(ampRange)
  .range([rowHeight, 0]);

var traceLine = d3.line()
  .x(function(d, i) { return xScale(i * sampleStep); })
  .y(function(d) { return yScale(d); });

// One panel per station
var panels = svg.selectAll(".panel")
  .data(stations)
  .enter()
  .append("g")
  .attr("class", "panel")
  .attr("transform", function(d) { return "translate(0," + rowScale(d) + ")"; });

panels.append("path")
  .attr("d", function(d, i) { return traceLine(traces[i]); })
  .attr("fill", "none")
  .attr("stroke", "#000")
  .attr("stroke-width", 1.5)
  .attr("stroke-linejoin", "round");

panels.append("rect")
  .attr("x", plotLeft)
  .attr("y", 0)
  .attr("width", plotRight - plotLeft)
  .attr("height", rowHeight)
  .attr("fill", "none")
  .attr("stroke", "#000")
  .attr("stroke-width", 2.2);

panels.append("text")
  .attr("x", 151)
  .attr("y", rowHeight / 2 + 13.5)
  .attr("text-anchor", "end")
  .style("font-size", "36px")
  .text(function(d) { return d; });

// Small inward ticks on every panel
var innerTicks = timeTicks.filter(function(t) { return t > timeRange[0]; });

panels.append("g")
  .attr("class", "tick-top")
  .call(d3.axisTop(xScale).tickValues(innerTicks).tickSize(-5).tickFormat(""));

panels.append("g")
  .attr("class", "tick-bottom")
  .attr("transform", "translate(0," + rowHeight + ")")
  .call(d3.axisBottom(xScale).tickValues(innerTicks).tickSize(-5).tickFormat(""));

svg.selectAll(".tick-top .domain, .tick-bottom .domain").remove();
svg.selectAll(".panel .tick line").attr("stroke", "#000").attr("stroke-width", 2);

// Bottom time axis with labels
var bottomAxis = svg.append("g")
  .attr("transform", "translate(0," + plotBottom + ")")
  .call(d3.axisBottom(xScale).tickValues(timeTicks).tickSize(-7).tickPadding(10).tickFormat(d3.format("d")));

bottomAxis.select(".domain").remove();
bottomAxis.selectAll("line").attr("stroke", "#000").attr("stroke-width", 2);
bottomAxis.selectAll("text")
  .style("font-family", "'Liberation Sans', Arial, sans-serif")
  .style("font-size", "34px")
  .attr("fill", "#000");

// Title and axis label
svg.append("text")
  .attr("x", 1078)
  .attr("y", 93)
  .attr("text-anchor", "middle")
  .style("font-size", "37px")
  .style("font-weight", "bold")
  .style("white-space", "pre")
  .text(titleText);

svg.append("text")
  .attr("x", 978)
  .attr("y", 2587)
  .attr("text-anchor", "middle")
  .style("font-size", "36px")
  .style("font-weight", "bold")
  .text(xLabel);
</script>
</body>
</html>
